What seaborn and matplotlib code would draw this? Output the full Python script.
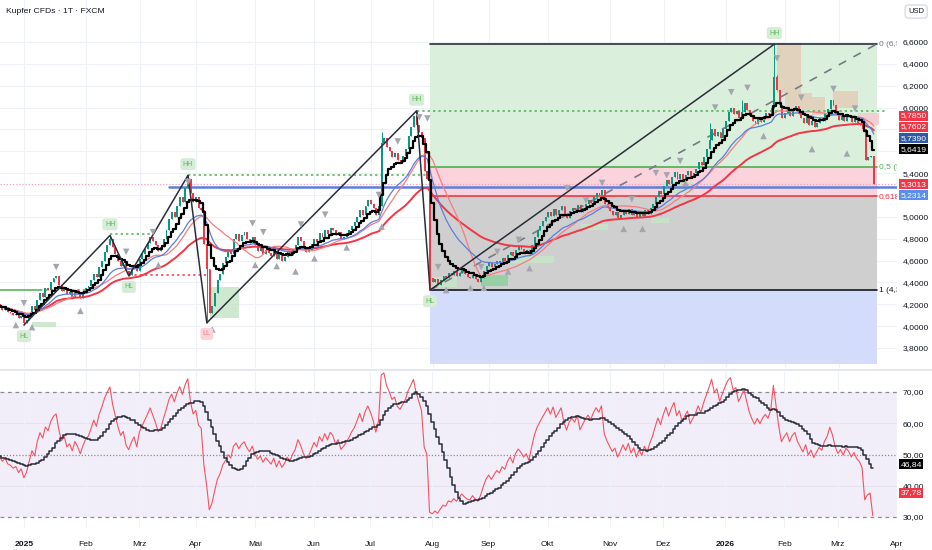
import numpy as np
import pandas as pd
import matplotlib
matplotlib.use("Agg")
import matplotlib.pyplot as plt
import matplotlib.transforms as mtransforms
import seaborn as sns

# daily closes of Kupfer CFD (USD), 18.12.2024 .. 19.03.2026
closes = [
    4.20, 4.18, 4.15, 4.17, 4.13, 4.12, 4.10, 4.11, 4.07, 4.09,
    4.03, 4.06, 4.12, 4.18, 4.15, 4.24, 4.30, 4.27, 4.35, 4.33,
    4.40, 4.44, 4.46, 4.38, 4.32, 4.35, 4.29, 4.31, 4.27, 4.33,
    4.30, 4.26, 4.31, 4.35, 4.37, 4.42, 4.48, 4.45, 4.54, 4.60,
    4.68, 4.74, 4.80, 4.72, 4.66, 4.60, 4.55, 4.58, 4.50, 4.47,
    4.52, 4.56, 4.50, 4.61, 4.66, 4.71, 4.76, 4.82, 4.78, 4.74,
    4.69, 4.72, 4.80, 4.88, 4.98, 5.04, 5.00, 5.10, 5.18, 5.14,
    5.26, 5.35, 5.22, 5.14, 5.18, 5.08, 5.06, 4.75, 4.52, 4.12,
    4.18, 4.30, 4.42, 4.48, 4.58, 4.63, 4.70, 4.66, 4.80, 4.84,
    4.78, 4.83, 4.86, 4.80, 4.76, 4.82, 4.74, 4.69, 4.72, 4.66,
    4.70, 4.67, 4.64, 4.69, 4.61, 4.66, 4.60, 4.63, 4.68, 4.65,
    4.70, 4.74, 4.82, 4.78, 4.72, 4.68, 4.70, 4.75, 4.80, 4.77,
    4.85, 4.82, 4.88, 4.84, 4.90, 4.88, 4.83, 4.86, 4.80, 4.82,
    4.85, 4.88, 4.92, 4.95, 5.00, 5.06, 5.02, 5.10, 5.15, 5.12,
    5.08, 5.02, 5.10, 5.68, 5.72, 5.64, 5.60, 5.55, 5.58, 5.52,
    5.50, 5.56, 5.62, 5.74, 5.82, 5.92, 5.84, 5.78, 5.72, 5.42,
    5.35, 4.44, 4.40, 4.43, 4.38, 4.42, 4.46, 4.44, 4.49, 4.47,
    4.50, 4.46, 4.49, 4.52, 4.48, 4.45, 4.44, 4.47, 4.43, 4.40,
    4.44, 4.50, 4.55, 4.58, 4.54, 4.57, 4.60, 4.58, 4.62, 4.60,
    4.65, 4.68, 4.64, 4.70, 4.73, 4.71, 4.68, 4.70, 4.66, 4.74,
    4.82, 4.88, 4.92, 4.96, 5.00, 5.04, 5.01, 5.07, 5.02, 5.06,
    5.10, 5.03, 4.99, 5.05, 5.08, 5.06, 5.11, 5.04, 5.08, 5.12,
    5.15, 5.13, 5.18, 5.22, 5.20, 5.25, 5.12, 5.08, 5.05, 5.02,
    5.04, 4.99, 5.02, 5.06, 5.03, 5.07, 5.02, 5.05, 5.00, 5.04,
    5.01, 5.06, 5.03, 5.08, 5.12, 5.18, 5.24, 5.21, 5.28, 5.34,
    5.30, 5.36, 5.41, 5.35, 5.39, 5.34, 5.38, 5.42, 5.36, 5.40,
    5.44, 5.50, 5.47, 5.55, 5.62, 5.70, 5.80, 5.74, 5.78, 5.72,
    5.80, 5.88, 5.96, 6.00, 5.94, 5.97, 5.90, 5.96, 6.04, 5.98,
    5.92, 5.88, 5.85, 5.90, 5.87, 5.92, 5.95, 5.93, 6.00, 6.28,
    6.16, 6.02, 5.90, 5.95, 5.99, 5.92, 5.98, 6.01, 5.94, 5.90,
    5.86, 5.92, 5.84, 5.88, 5.82, 5.86, 5.90, 5.88, 5.95, 5.99,
    6.07, 6.02, 5.94, 5.89, 5.92, 5.88, 5.93, 5.91, 5.87, 5.90,
    5.86, 5.84, 5.80, 5.52, 5.55, 5.56, 5.3013,
]
first_open = 4.22
start_day = "2024-12-18"

# swing points of the zigzag (bar, price, label)
zz_bars = [10, 42, 49, 71, 78, 156, 161, 289]
zz_prices = [4.01, 4.83, 4.46, 5.38, 4.03, 5.97, 4.33, 6.58]
zz_tags = ["HL", "HH", "HL", "HH", "LL", "HH", "HL", "HH"]

# extra upper wicks
wick_bars = [143, 265, 277, 290]
wick_highs = [5.78, 5.86, 6.07, 6.30]

# fibonacci retracement of the last leg (labels as far as visible)
fib_hi = 6.58
fib_lo = 4.33
fib_ratios = [0, 0.5, 0.618, 1]
fib_names = ["0 (6,5", "0,5 (5", "0,618", "1 (4,3"]
fib_ext = 1.3

# swing level lines
lvl_start = [1, 16, 42, 49, 71, 156]
lvl_end = [16, 34, 57, 79, 160, 330]
lvl_price = [4.33, 4.33, 4.84, 4.47, 5.38, 5.97]
lvl_kind = ["solid", "dot", "dot", "dotred", "dot", "dot"]

blue_level = 5.275
blue_from = 64
last_price = 5.3013

# pivot triangles
dn_bars = [10, 22, 48, 58, 71, 95, 99, 113, 122, 142, 149, 157, 160, 164, 180,
           186, 194, 212, 219, 225, 236, 245, 249, 254, 267, 273, 279, 290, 299, 311, 319]
dn_prices = [4.21, 4.54, 4.68, 4.86, 5.32, 4.94, 4.86, 4.93, 5.02, 5.20, 5.69, 5.91, 5.90, 4.54, 4.54,
             4.68, 4.79, 5.26, 5.15, 5.31, 5.16, 5.40, 5.38, 5.51, 6.00, 6.14, 6.18, 6.45, 6.09, 6.17, 5.99]
up_bars = [7, 13, 31, 60, 80, 96, 104, 111, 118, 130, 143, 167, 176, 181, 190, 198,
           233, 240, 256, 285, 303, 316]
up_prices = [4.01, 3.99, 4.14, 4.56, 3.97, 4.56, 4.55, 4.50, 4.62, 4.72, 4.91, 4.33, 4.35, 4.35, 4.50, 4.53,
             4.89, 4.89, 5.31, 5.74, 5.62, 5.58]

# order blocks
ob_start = [13, 79, 162, 180, 190, 217, 243, 248, 290, 293, 303, 311, 320]
ob_end = [22, 90, 171, 190, 207, 227, 250, 259, 299, 303, 308, 320, 328]
ob_top = [4.04, 4.36, 4.45, 4.47, 4.64, 4.93, 4.99, 5.32, 6.59, 6.13, 6.10, 6.15, 5.95]
ob_bottom = [3.99, 4.07, 4.36, 4.37, 4.58, 4.88, 4.94, 5.22, 6.13, 5.98, 5.93, 6.00, 5.84]
ob_kind = ["bull", "bull", "bull", "bull2", "bull", "bull", "bull", "bull",
           "bear", "bear", "bear", "bear", "bear2"]

# right scale tags
tag_text = ["5,7850", "5,7602", "5,7390", "5,6419", "5,3013", "5,2314"]
tag_level = [5.925, 5.822, 5.72, 5.617, 5.30, 5.198]
tag_color = ["#f23645", "#f23645", "#2e5aa8", "#000000", "#f23645", "#5b8def"]
hidden_ticks = [5.2, 5.6, 5.8]
rsi_tag_text = ["46,84", "37,78"]
rsi_tag_level = [46.84, 37.78]
rsi_tag_color = ["#000000", "#f23645"]

month_labels = ["2025", "Feb", "Mrz", "Apr", "Mai", "Jun", "Jul", "Aug", "Sep",
                "Okt", "Nov", "Dez", "2026", "Feb", "Mrz", "Apr"]

sns.set_theme(style="white")
plt.rcParams["font.family"] = ["Liberation Sans", "DejaVu Sans"]
FS = 6.1

df = pd.DataFrame({"close": closes})
df["date"] = pd.bdate_range(start_day, periods=len(df))
df["open"] = df["close"].shift(1).fillna(first_open)
df["high"] = df[["open", "close"]].max(axis=1)
df["low"] = df[["open", "close"]].min(axis=1)
for b, p in zip(zz_bars, zz_prices):
    if p > df.loc[b, "high"]:
        df.loc[b, "high"] = p
    if p < df.loc[b, "low"]:
        df.loc[b, "low"] = p
for b, p in zip(wick_bars, wick_highs):
    df.loc[b, "high"] = max(df.loc[b, "high"], p)
df["bar"] = np.arange(len(df))

df["ema_fast"] = df["close"].ewm(span=8).mean()
df["ema20"] = df["close"].ewm(span=20).mean()
df["sma20"] = df["close"].rolling(20, min_periods=1).mean()
df["ema50"] = df["close"].ewm(span=50).mean()

# Wilder RSI, averages seeded neutral
rsi_len = 20
delta = df["close"].diff().fillna(0)
gain = delta.clip(lower=0)
loss = -delta.clip(upper=0)
gain.iloc[0] = 0.03
loss.iloc[0] = 0.03
avg_g = gain.ewm(alpha=1 / rsi_len, adjust=False).mean()
avg_l = loss.ewm(alpha=1 / rsi_len, adjust=False).mean()
df["rsi"] = 100 - 100 / (1 + avg_g / avg_l)
df["rsi_ma"] = df["rsi"].rolling(14, min_periods=1).mean()

# month ticks from the trading calendar
cal = pd.bdate_range(start_day, periods=len(df) + 20)
firsts = [i for i in range(1, len(cal)) if cal[i].month != cal[i - 1].month]
tick_pos = firsts[:len(month_labels)]

fig = plt.figure(figsize=(9.32, 5.5), dpi=100)
ax = fig.add_axes([0, 0.3309, 0.9624, 0.6691])
ax2 = fig.add_axes([0, 0.04, 0.9624, 0.2836])
xlim = (1.1, 334.6)

grid_c = "#eef1f6"
for a in (ax, ax2):
    a.set_xlim(*xlim)
    for s in a.spines.values():
        s.set_visible(False)
    a.set_facecolor("white")
    for t in tick_pos:
        a.axvline(t, color=grid_c, lw=0.8, zorder=0.4)

# ---- price panel ----
ax.set_ylim(3.617, 6.984)
yt = np.round(np.arange(3.8, 6.61, 0.2), 1)
for v in yt:
    ax.axhline(v, color=grid_c, lw=0.8, zorder=0)

fx = [zz_bars[-2], len(df)]
lv = [fib_hi - r * (fib_hi - fib_lo) for r in fib_ratios]
ext = fib_hi - fib_ext * (fib_hi - fib_lo)
ax.fill_between(fx, lv[1], lv[0], color="#daefdc", lw=0, zorder=0.5)
ax.fill_between(fx, lv[2], lv[1], color="#fbd3dd", lw=0, zorder=0.5)
ax.fill_between(fx, lv[3], lv[2], color="#cfcfcf", lw=0, zorder=0.5)
ax.fill_between(fx, ext, lv[3], color="#d3ddfb", lw=0, zorder=0.5)
fib_col = ["#787b86", "#4caf50", "#f23645", "#131722"]
for val, name, c in zip(lv, fib_names, fib_col):
    ax.plot(fx, [val, val], color="#2a2e39" if c == "#787b86" else c, lw=1.2, zorder=2)
    ax.text(fx[1] + 0.8, val, name, color=c, fontsize=6.0, va="center", ha="left",
            clip_on=True)
ax.plot(fx, [fib_lo, fib_hi], color="#787b86", lw=1.2, ls=(0, (5, 5)), zorder=2)

for k in range(len(ob_start)):
    fc = {"bull": "#c6e6c8", "bull2": "#8fd19e", "bear": "#e3cdb9", "bear2": "#f6c9cf"}[ob_kind[k]]
    ax.fill_between([ob_start[k], ob_end[k]], ob_bottom[k], ob_top[k], color=fc,
                    alpha=0.85, lw=0, zorder=1)

ax.axhline(last_price, color="#f7a1ae", ls=(0, (1, 1.5)), lw=0.9, zorder=1.5)
ax.plot([blue_from, xlim[1]], [blue_level, blue_level], color="#5b7fe0", lw=1.8, zorder=1.6)
for s0, s1, p, kd in zip(lvl_start, lvl_end, lvl_price, lvl_kind):
    c = "#f23645" if kd == "dotred" else "#4caf50"
    ls = "-" if kd == "solid" else (0, (1.5, 2))
    ax.plot([s0, s1], [p, p], color=c, lw=1.1, ls=ls, zorder=1.7)

up = df["close"] >= df["open"]
cols = np.where(up, "#089981", "#f23645")
ax.vlines(df["bar"], df["low"], df["high"], colors=cols, lw=0.7, zorder=3)
body = (df["close"] - df["open"]).abs().clip(lower=0.006)
ax.bar(df["bar"], body, bottom=df[["open", "close"]].min(axis=1), width=0.72,
       color=cols, lw=0, zorder=3)

sns.lineplot(x=df["bar"], y=df["ema50"], ax=ax, color="#f23645", lw=1.4, zorder=4)
sns.lineplot(x=df["bar"], y=df["sma20"], ax=ax, color="#f77c80", lw=0.9, zorder=4)
sns.lineplot(x=df["bar"], y=df["ema20"], ax=ax, color="#5b7fe0", lw=0.9, zorder=4)
sns.lineplot(x=df["bar"], y=df["ema_fast"], ax=ax, color="#000000", lw=1.6,
             drawstyle="steps-mid", zorder=4.5)

ax.plot(zz_bars, zz_prices, color="#2a2e39", lw=1.1, zorder=5)
sns.scatterplot(x=dn_bars, y=dn_prices, ax=ax, marker="v", s=22, color="#a3a6ad",
                edgecolor="none", zorder=5, legend=False)
sns.scatterplot(x=up_bars, y=up_prices, ax=ax, marker="^", s=22, color="#a3a6ad",
                edgecolor="none", zorder=5, legend=False)

for b, p, tg in zip(zz_bars, zz_prices, zz_tags):
    above = tg == "HH"
    fc, tc = ("#fbd3d8", "#f77c80") if tg == "LL" else ("#d6ecd7", "#5cb85c")
    ax.annotate(tg, xy=(b, p), xytext=(0, 8 if above else -8), textcoords="offset points",
                ha="center", va="center", fontsize=5, color=tc, zorder=6,
                bbox=dict(boxstyle="round,pad=0.35", fc=fc, ec="none"))

ax.yaxis.tick_right()
ax.set_yticks(yt)
ax.set_yticklabels(["" if v in hidden_ticks else f"{v:.4f}".replace(".", ",") for v in yt])
ax.tick_params(axis="y", length=0, pad=4, labelsize=FS, labelcolor="#131722")
ax.set_xticks([])
ax.set_xlabel("")
ax.set_ylabel("")

tr = mtransforms.blended_transform_factory(ax.transAxes, ax.transData)
for t, lvl, c in zip(tag_text, tag_level, tag_color):
    ax.text(1.004, lvl, t, transform=tr, fontsize=FS, color="white", va="center",
            ha="left", clip_on=False, zorder=8,
            bbox=dict(boxstyle="square,pad=0.17", fc=c, ec="none"))

# ---- RSI panel ----
ax2.set_ylim(26.48, 76.4)
ax2.axhspan(30, 70, color="#f2eef9", lw=0, zorder=0.2)
ax2.axhline(70, color="#8a8d96", lw=0.9, ls=(0, (3, 3)), zorder=1)
ax2.axhline(30, color="#8a8d96", lw=0.9, ls=(0, (3, 3)), zorder=1)
ax2.axhline(50, color="#8a8d96", lw=0.9, ls=(0, (1, 1.5)), zorder=1)
for v in (40, 60):
    ax2.axhline(v, color="#e6e3ee", lw=0.8, zorder=0.3)
sns.lineplot(x=df["bar"], y=df["rsi"], ax=ax2, color="#f7525f", lw=0.8, zorder=3)
sns.lineplot(x=df["bar"], y=df["rsi_ma"], ax=ax2, color="#2a2e39", lw=1.1,
             drawstyle="steps-mid", zorder=4)
ax2.yaxis.tick_right()
rt = [30, 40, 50, 60, 70]
ax2.set_yticks(rt)
ax2.set_yticklabels([f"{v:.2f}".replace(".", ",") for v in rt])
ax2.tick_params(axis="y", length=0, pad=4, labelsize=FS, labelcolor="#131722")
ax2.set_xticks(tick_pos)
ax2.set_xticklabels(month_labels)
ax2.tick_params(axis="x", length=0, pad=9, labelsize=FS, labelcolor="#131722")
for lab in ax2.get_xticklabels():
    if lab.get_text().isdigit():
        lab.set_fontweight("bold")
ax2.set_xlabel("")
ax2.set_ylabel("")
tr2 = mtransforms.blended_transform_factory(ax2.transAxes, ax2.transData)
for t, lvl, c in zip(rsi_tag_text, rsi_tag_level, rsi_tag_color):
    ax2.text(1.004, lvl, t, transform=tr2, fontsize=FS, color="white", va="center",
             ha="left", clip_on=False, zorder=8,
             bbox=dict(boxstyle="square,pad=0.17", fc=c, ec="none"))

fig.add_artist(plt.Line2D([0, 1], [1 - 370 / 550, 1 - 370 / 550], color="#e0e3eb", lw=1.2))
fig.text(0.006, 0.979, "Kupfer CFDs · 1T · FXCM", fontsize=6.1, color="#131722", va="center")
fig.text(0.983, 0.979, "USD", fontsize=5.5, color="#131722", va="center", ha="center",
         bbox=dict(boxstyle="round,pad=0.4", fc="white", ec="#d1d4dc", lw=0.8))

fig.savefig("out.png", dpi=100)
